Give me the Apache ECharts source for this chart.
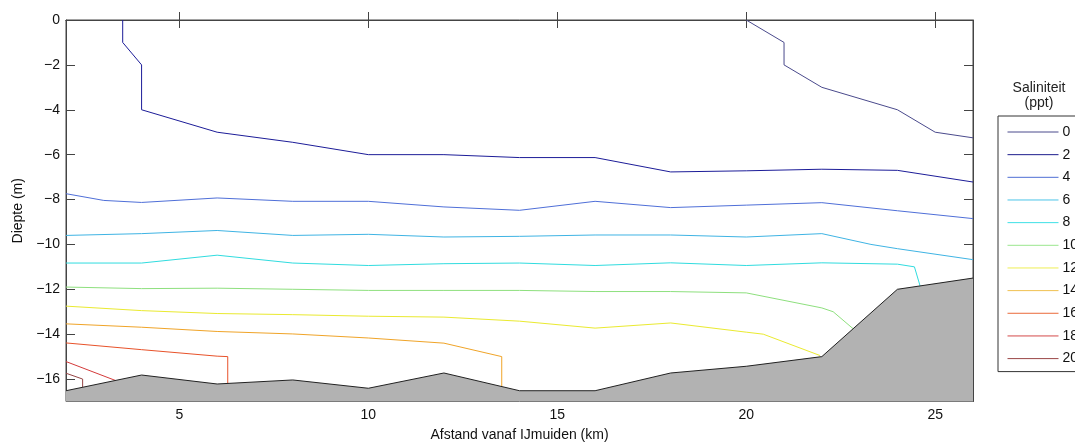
<!DOCTYPE html>
<html>
<head>
<meta charset="utf-8">
<script src="https://cdn.jsdelivr.net/npm/echarts@6/dist/echarts.min.js"></script>
<style>
html,body{margin:0;padding:0;background:#fff;}
#c{width:1075px;height:443px;}
</style>
</head>
<body>
<div id="c"></div>
<script>
// ---- data ----
const xTicks = [5, 10, 15, 20, 25];
const yTicks = [0, -2, -4, -6, -8, -10, -12, -14, -16];
const levels = ['0', '2', '4', '6', '8', '10', '12', '14', '16', '18', '20'];
const legendColors = ['#4a4a8c', '#1c1c8c', '#4f6fd4', '#4cc4e8', '#3ee0e6', '#9ae68e', '#eeee55', '#f0c050', '#ea6a3a', '#d44a4a', '#9a4646'];
const lineColors   = ['#4a4a8c', '#1c1c98', '#4f6fd8', '#3fb4e4', '#30dcdf', '#8ee07e', '#eaea30', '#f0a428', '#e8522a', '#d43a3a', '#944444'];

const c0  = [[20,0],[21,-1],[21,-2],[22,-3],[24,-4],[25,-5],[26,-5.25]];
const c2  = [[3.5,0],[3.5,-1],[4,-2],[4,-4],[6,-5],[8,-5.45],[10,-6],[12,-6],[14,-6.13],[16,-6.13],[18,-6.77],[20,-6.72],[22,-6.65],[24,-6.7],[26,-7.22]];
const c4  = [[2,-7.74],[3,-8.04],[4,-8.13],[6,-7.93],[8,-8.08],[10,-8.08],[12,-8.33],[14,-8.48],[16,-8.08],[18,-8.36],[20,-8.25],[22,-8.14],[24,-8.5],[26,-8.85]];
const c6  = [[2,-9.6],[4,-9.52],[6,-9.38],[8,-9.6],[10,-9.55],[12,-9.67],[14,-9.64],[16,-9.58],[18,-9.58],[20,-9.67],[22,-9.52],[23.3,-10.0],[24,-10.19],[26,-10.68]];
const c8  = [[2,-10.83],[4,-10.83],[6,-10.48],[8,-10.83],[10,-10.94],[12,-10.86],[14,-10.83],[16,-10.94],[18,-10.82],[20,-10.94],[22,-10.82],[24,-10.88],[24.45,-11.0],[24.6,-11.85]];
const c10 = [[2,-11.9],[4,-11.97],[6,-11.95],[8,-12.0],[10,-12.05],[12,-12.05],[14,-12.05],[16,-12.1],[18,-12.1],[20,-12.16],[22,-12.83],[22.3,-13.0],[22.83,-13.76]];
const c12 = [[2,-12.75],[4,-12.95],[6,-13.08],[8,-13.13],[10,-13.2],[12,-13.24],[14,-13.42],[16,-13.73],[18,-13.5],[20,-13.91],[20.45,-14.0],[21.95,-14.95]];
const c14 = [[2,-13.54],[4,-13.69],[6,-13.88],[8,-13.99],[10,-14.17],[12,-14.4],[13.53,-15.0],[13.53,-16.33]];
const c16 = [[2,-14.39],[4,-14.69],[6,-14.98],[6.28,-15.0],[6.28,-16.2]];
const c18 = [[2,-15.22],[3.32,-16.07]];
const c20 = [[2,-15.74],[2.44,-16.0],[2.44,-16.36]];
const contours = [c0, c2, c4, c6, c8, c10, c12, c14, c16, c18, c20];

const bottom = [[2,-16.52],[4,-15.82],[6,-16.22],[8,-16.04],[10,-16.41],[12,-15.73],[14,-16.52],[16,-16.52],[18,-15.73],[20,-15.43],[22,-15.0],[24,-12.0],[26,-11.5]];

// ---- chart ----
const FONT = 'Liberation Sans, Arial, sans-serif';
const axisCol = '#444';
const fmtNum = v => (v < 0 ? '\u2212' + Math.abs(v) : String(v));

const series = contours.map((d, i) => ({
  name: levels[i],
  type: 'line',
  data: d,
  symbol: 'none',
  silent: true,
  animation: false,
  color: legendColors[i],
  lineStyle: { color: lineColors[i], width: 1 },
  z: 3
}));
series.push({
  name: 'bodem',
  type: 'line',
  data: bottom,
  symbol: 'none',
  silent: true,
  animation: false,
  lineStyle: { color: '#222', width: 1 },
  areaStyle: { color: '#b2b2b2', opacity: 1, origin: 'start' },
  z: 4
});

const chart = echarts.init(document.getElementById('c'), null, { renderer: 'canvas' });
chart.setOption({
  backgroundColor: '#fff',
  animation: false,
  textStyle: { fontFamily: FONT },
  title: {
    text: 'Saliniteit\n(ppt)',
    left: 1034,
    top: 76,
    textAlign: 'center',
    textStyle: { fontFamily: FONT, fontSize: 14, fontWeight: 'normal', color: '#222', lineHeight: 15 }
  },
  legend: {
    data: levels.map((n, i) => ({ name: n, lineStyle: { color: legendColors[i], width: 1 } })),
    orient: 'vertical',
    left: 998,
    top: 116,
    padding: [9, 30, 6, 9],
    itemWidth: 51,
    itemHeight: 12,
    itemGap: 8.66,
    itemStyle: { opacity: 0 },
    borderColor: '#333',
    borderWidth: 1,
    borderRadius: 0,
    selectedMode: false,
    textStyle: { fontFamily: FONT, fontSize: 14, color: '#111', padding: [0, 0, 0, -1] }
  },
  grid: {
    left: 66, right: 102, top: 20, bottom: 41.5,
    outerBoundsMode: 'none',
    show: true, borderColor: axisCol, borderWidth: 1, backgroundColor: 'transparent'
  },
  xAxis: [{
    type: 'value', min: 2, max: 26, position: 'bottom',
    name: 'Afstand vanaf IJmuiden (km)', nameLocation: 'middle', nameGap: 27,
    nameTextStyle: { fontFamily: FONT, fontSize: 14, color: '#111' },
    axisLine: { show: true, lineStyle: { color: axisCol } },
    axisTick: { show: true, inside: true, length: 8, customValues: xTicks, lineStyle: { color: axisCol } },
    axisLabel: { fontFamily: FONT, fontSize: 14, color: '#111', margin: 7, customValues: xTicks,
      formatter: v => fmtNum(v) },
    splitLine: { show: false }
  }, {
    type: 'value', min: 2, max: 26, position: 'top',
    axisLine: { show: true, lineStyle: { color: axisCol } },
    axisTick: { show: true, inside: true, length: 8, customValues: xTicks, lineStyle: { color: axisCol } },
    axisLabel: { show: false },
    splitLine: { show: false }
  }],
  yAxis: [{
    type: 'value', min: -17, max: 0, position: 'left',
    name: 'Diepte (m)', nameLocation: 'middle', nameGap: 40, nameRotate: 90,
    nameTextStyle: { fontFamily: FONT, fontSize: 14, color: '#111' },
    axisLine: { show: true, lineStyle: { color: axisCol } },
    axisTick: { show: true, inside: true, length: 9, customValues: yTicks, lineStyle: { color: axisCol } },
    axisLabel: { fontFamily: FONT, fontSize: 14, color: '#111', margin: 6, customValues: yTicks,
      formatter: v => fmtNum(v) },
    splitLine: { show: false }
  }, {
    type: 'value', min: -17, max: 0, position: 'right',
    axisLine: { show: true, lineStyle: { color: axisCol } },
    axisTick: { show: true, inside: true, length: 9, customValues: yTicks, lineStyle: { color: axisCol } },
    axisLabel: { show: false },
    splitLine: { show: false }
  }],
  series: series
});
</script>
</body>
</html>
